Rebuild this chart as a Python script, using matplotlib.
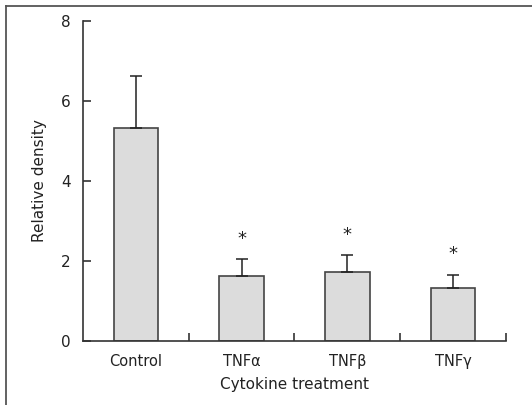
import numpy as np
import matplotlib
matplotlib.use("Agg")
import matplotlib.pyplot as plt
from matplotlib.lines import Line2D

# data
categories = ["Control", "TNF\u03b1", "TNF\u03b2", "TNF\u03b3"]
means = [5.33, 1.63, 1.73, 1.33]
sem = [1.30, 0.41, 0.41, 0.33]
significant = [False, True, True, True]

plt.rcParams["font.family"] = ["DejaVu Sans"]
axis_col = "#333333"

fig = plt.figure(figsize=(5.32, 4.05), dpi=100)
ax = fig.add_axes([0.156, 0.158, 0.795, 0.790])

x = np.arange(len(categories))
ax.bar(x, means, width=0.42, color="#dcdcdc", edgecolor="#444444", linewidth=1.2,
       yerr=[np.zeros(len(sem)), sem], capsize=4.3,
       error_kw=dict(ecolor="#222222", elinewidth=1.1, capthick=1.1), zorder=2)

for xi, m, s, sig in zip(x, means, sem, significant):
    if sig:
        ax.text(xi, m + s + 0.28, "*", ha="center", va="bottom", fontsize=13, color="#222222")

ax.set_xlim(-0.5, len(categories) - 0.5)
ax.set_ylim(0, 8)
ax.set_yticks([0, 2, 4, 6, 8])
ax.set_xticks(x)
ax.set_xticklabels(categories)
ax.set_xticks(np.arange(len(categories)) + 0.5, minor=True)

for side in ["top", "right"]:
    ax.spines[side].set_visible(False)
for side in ["left", "bottom"]:
    ax.spines[side].set_color(axis_col)
    ax.spines[side].set_linewidth(1.2)

ax.tick_params(axis="y", direction="in", length=6, width=1.2, color=axis_col,
               pad=9, labelsize=11, labelcolor="#222222")
ax.tick_params(axis="x", which="major", length=0, pad=9, labelsize=10.5, labelcolor="#222222")
ax.tick_params(axis="x", which="minor", direction="in", length=6, width=1.2, color=axis_col)

ax.set_ylabel("Relative density", fontsize=11, labelpad=10, color="#222222")
ax.set_xlabel("Cytokine treatment", fontsize=11, labelpad=6, color="#222222")

# outer frame (top and left edges only)
fig.add_artist(Line2D([0.012, 1.0], [0.986, 0.986], color="#555555", linewidth=1.3,
                      transform=fig.transFigure))
fig.add_artist(Line2D([0.012, 0.012], [0.0, 0.986], color="#555555", linewidth=1.3,
                      transform=fig.transFigure))

fig.savefig("out.png", dpi=100)
